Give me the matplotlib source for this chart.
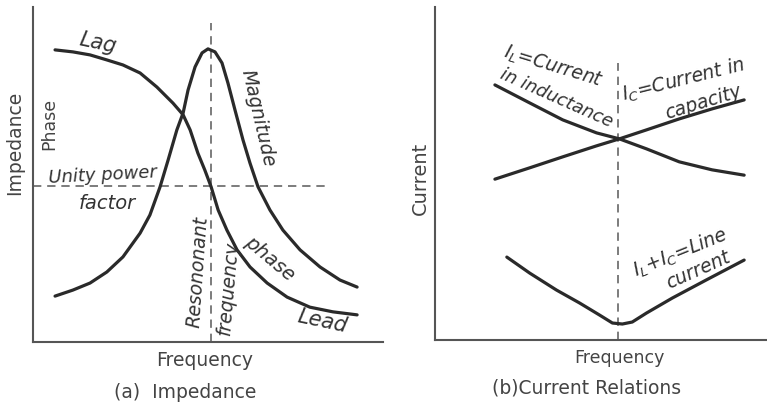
import matplotlib
matplotlib.use("Agg")
import matplotlib.pyplot as plt

W, H = 767, 407

# (a) impedance curves, frequency and impedance in arbitrary units 0..10
mag_f = [0.63, 1.14, 1.63, 2.11, 2.57, 3.06, 3.34, 3.63, 3.86, 4.11, 4.29, 4.43,
         4.63, 4.83, 5.00, 5.20, 5.40, 5.57, 5.77, 6.00, 6.20, 6.43, 6.77, 7.14,
         7.63, 8.20, 8.77, 9.26]
mag_z = [1.37, 1.55, 1.76, 2.09, 2.54, 3.25, 3.79, 4.63, 5.43, 6.33, 6.84, 7.52,
         8.21, 8.63, 8.75, 8.66, 8.33, 7.73, 6.93, 6.03, 5.34, 4.63, 3.94, 3.34,
         2.75, 2.24, 1.85, 1.64]
ph_f = [0.63, 1.14, 1.63, 2.11, 2.57, 3.06, 3.54, 4.00, 4.29, 4.49, 4.71, 4.91,
        5.09, 5.29, 5.54, 5.83, 6.20, 6.69, 7.26, 7.91, 8.57, 9.26]
ph_z = [8.72, 8.66, 8.57, 8.42, 8.27, 8.03, 7.61, 7.13, 6.78, 6.33, 5.64, 5.13,
        4.63, 3.94, 3.34, 2.75, 2.24, 1.76, 1.34, 1.04, 0.90, 0.81]
f_res_a = 5.08
unity_pf = 4.66

# (b) current relations
il_f = [1.81, 2.86, 3.86, 4.88, 5.57, 6.39, 7.38, 8.37, 9.34]
il_i = [7.66, 7.12, 6.61, 6.22, 6.04, 5.74, 5.35, 5.11, 4.95]
ic_f = [1.81, 2.86, 3.86, 4.88, 5.57, 6.39, 7.38, 8.37, 9.34]
ic_i = [4.83, 5.17, 5.50, 5.83, 6.04, 6.31, 6.64, 6.94, 7.21]
line_f = [2.17, 2.86, 3.67, 4.37, 4.97, 5.36, 5.66, 5.96, 6.39, 7.17, 8.19, 9.34]
line_i = [2.49, 2.01, 1.50, 1.11, 0.75, 0.51, 0.48, 0.54, 0.81, 1.26, 1.80, 2.40]
f_res_b = 5.54


def px(x, y):
    return x / W, 1 - y / H


ink = "#2a2a2a"
grey = "#555555"
curve = dict(color=ink, lw=2.3, solid_capstyle="round", solid_joinstyle="round")
dash = dict(color="#666666", lw=1.2, dashes=(5, 3.5))
hand = dict(color="#333333", style="italic", family="DejaVu Sans", ha="center", va="center")
plain = dict(color="#444444", family="DejaVu Sans", ha="center", va="center")

fig = plt.figure(figsize=(W / 100, H / 100), dpi=100)

axa = fig.add_axes([33 / W, 1 - 342 / H, (383 - 33) / W, (342 - 7) / H])
axb = fig.add_axes([435 / W, 1 - 340 / H, (766 - 435) / W, (340 - 7) / H])
for ax in (axa, axb):
    ax.set_xlim(0, 10)
    ax.set_ylim(0, 10)
    ax.set_xticks([])
    ax.set_yticks([])
    for s in ("top", "right"):
        ax.spines[s].set_visible(False)
    for s in ("left", "bottom"):
        ax.spines[s].set_color(grey)
        ax.spines[s].set_linewidth(1.5)

# (a)
axa.plot([f_res_a, f_res_a], [0, 9.52], **dash)
axa.plot([0, 8.4], [unity_pf, unity_pf], **dash)
axa.plot(mag_f, mag_z, **curve)
axa.plot(ph_f, ph_z, **curve)

# (b)
axb.plot([f_res_b, f_res_b], [0, 8.32], **dash)
axb.plot(il_f, il_i, **curve)
axb.plot(ic_f, ic_i, **curve)
axb.plot(line_f, line_i, **curve)

# axis labels
fig.text(*px(15, 143), "Impedance", rotation=90, fontsize=13.5, **plain)
fig.text(*px(49, 124), "Phase", rotation=90, fontsize=12.5, **plain)
fig.text(*px(205, 360), "Frequency", fontsize=13.5, **plain)
fig.text(*px(185, 393), "(a)  Impedance", fontsize=13.5, **plain)
fig.text(*px(420, 178), "Current", rotation=90, fontsize=14, **plain)
fig.text(*px(619, 358), "Frequency", fontsize=12.5, **plain)
fig.text(*px(587, 388), "(b)Current Relations", fontsize=13.5, **plain)

# handwritten notes (a)
fig.text(*px(98, 43), "Lag", rotation=-12, fontsize=15, **hand)
fig.text(*px(258, 118), "Magnitude", rotation=-77, fontsize=13.5, **hand)
fig.text(*px(103, 175), "Unity power", rotation=3, fontsize=13, **hand)
fig.text(*px(107, 203), "factor", fontsize=14, **hand)
fig.text(*px(198, 272), "Resononant", rotation=86, fontsize=13.5, **hand)
fig.text(*px(228, 288), "frequency", rotation=85, fontsize=13.5, **hand)
fig.text(*px(270, 259), "phase", rotation=-40, fontsize=14, **hand)
fig.text(*px(322, 321), "Lead", rotation=-12, fontsize=15, **hand)

# handwritten notes (b)
fig.text(*px(553, 67), r"$I_L$=Current", rotation=-17, fontsize=13.5, **hand)
fig.text(*px(557, 98), "in inductance", rotation=-24, fontsize=13, **hand)
fig.text(*px(683, 80), r"$I_C$=Current in", rotation=14, fontsize=13.5, **hand)
fig.text(*px(703, 102), "capacity", rotation=17, fontsize=13.5, **hand)
fig.text(*px(680, 253), r"$I_L$+$I_C$=Line", rotation=22, fontsize=13.5, **hand)
fig.text(*px(698, 270), "current", rotation=24, fontsize=13.5, **hand)

fig.savefig("out.png", dpi=100)
